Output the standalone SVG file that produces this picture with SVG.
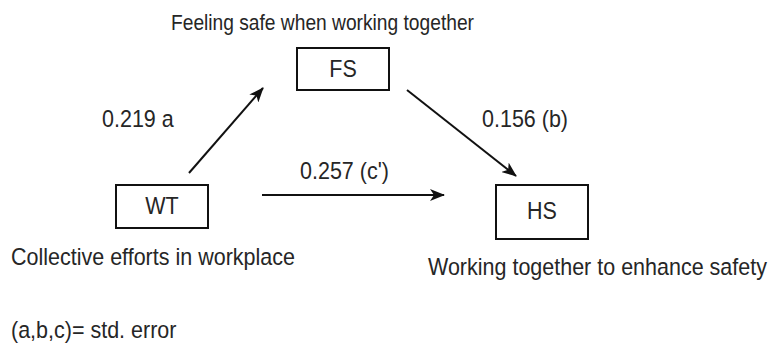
<svg xmlns="http://www.w3.org/2000/svg" width="771" height="349" viewBox="0 0 771 349">
<style>
text{font-family:"Liberation Sans",Arial,sans-serif;font-size:21.5px;fill:#262626}
.box{fill:#fff;stroke:#111;stroke-width:2}
.c{text-anchor:middle}
.ln{stroke:#111;stroke-width:2;fill:none}
</style>
<defs>
<marker id="ah" markerWidth="15" markerHeight="12" refX="14" refY="6" orient="auto" markerUnits="userSpaceOnUse" viewBox="0 0 15 12">
<path d="M0,0 L15,6 L0,12 L4,6 Z" fill="#111"/>
</marker>
</defs>
<rect width="771" height="349" fill="#fff"/>
<g id="connectors">
<line class="ln" x1="189" y1="173" x2="263" y2="88" marker-end="url(#ah)"/>
<line class="ln" x1="407" y1="90" x2="516" y2="176" marker-end="url(#ah)"/>
<line class="ln" x1="262" y1="195" x2="444" y2="195" marker-end="url(#ah)"/>
<text transform="translate(102,127) scale(1,1.1)">0.219 a</text>
<text transform="translate(482,127) scale(1,1.1)">0.156 (b)</text>
<text transform="translate(300,179) scale(1,1.1)">0.257 (c')</text>
</g>
<g id="FS">
<rect class="box" x="297" y="48" width="92" height="42"/>
<text class="c" transform="translate(343,77) scale(1,1.1)">FS</text>
<text transform="translate(171,29.5) scale(1,1.16)" style="font-size:19.2px">Feeling safe when working together</text>
</g>
<g id="WT">
<rect class="box" x="116" y="185" width="92" height="43"/>
<text class="c" transform="translate(162,214) scale(1,1.1)">WT</text>
<text transform="translate(11,265) scale(1,1.1)">Collective efforts in workplace</text>
</g>
<g id="HS">
<rect class="box" x="496" y="185" width="92" height="54"/>
<text class="c" transform="translate(542,219) scale(1,1.1)">HS</text>
<text transform="translate(428,275) scale(1,1.1)">Working together to enhance safety</text>
</g>
<text transform="translate(11,338) scale(1,1.1)">(a,b,c)= std. error</text>
</svg>
